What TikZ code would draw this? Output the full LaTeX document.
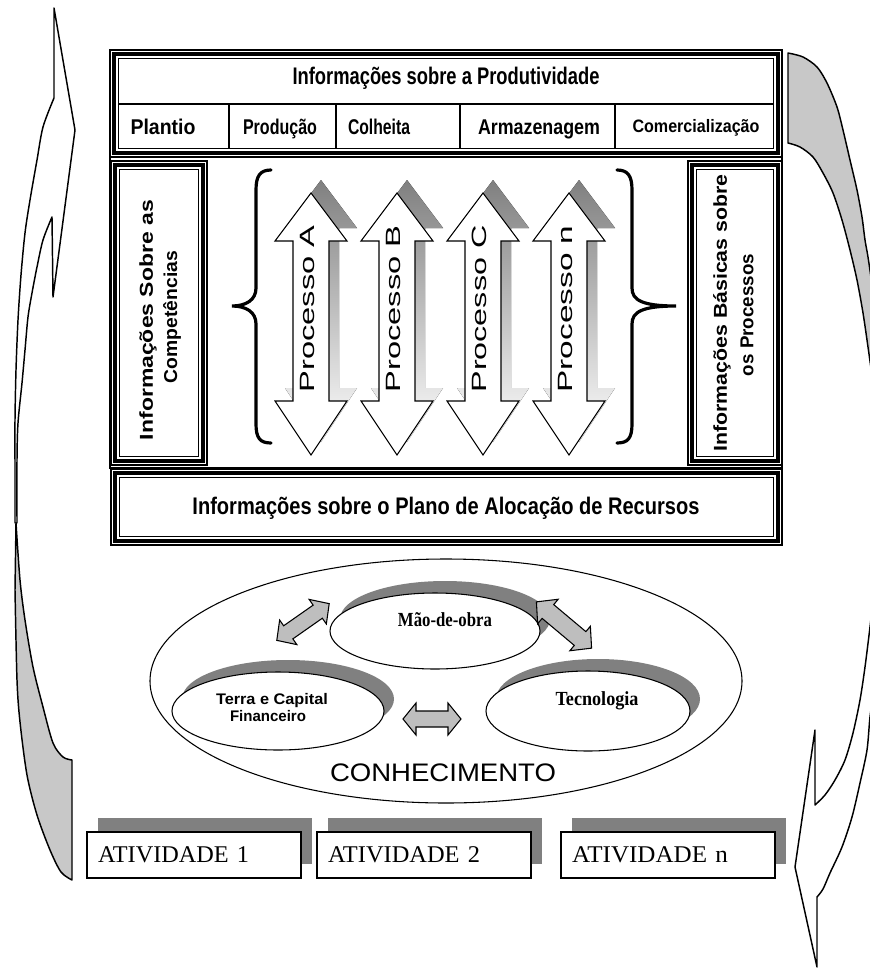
\documentclass[tikz,border=0pt]{standalone}
\usepackage{fontspec}
\usepackage{graphicx}
\setmainfont{Liberation Serif}
\newfontfamily\sansf{Liberation Sans}
\usetikzlibrary{shapes.geometric,shadows}

\newlength\pxu
\setlength\pxu{0.75pt}
% stretch or squeeze a text horizontally to a width given in pixels
\newcommand\wfit[2]{\resizebox{#1\pxu}{\height}{#2}}

\definecolor{shade}{RGB}{128,128,128}
\definecolor{swooshgray}{RGB}{200,200,200}
\definecolor{linkfill}{RGB}{190,190,190}

% thin / heavy / thin border, as in the framed panels
\newcommand\tripleframe[4]{%
  \draw[thinrule] (#1,#2) rectangle (#3,#4);
  \draw[heavyrule] (#1+4,#2+4) rectangle (#3-4,#4-4);
  \draw[thinrule] (#1+8.5,#2+8.5) rectangle (#3-8.5,#4-8.5);
}

% vertical two-headed block arrow centred on x = #1
\newcommand\procarrow[1]{%
  (#1,193) -- (#1+36,241) -- (#1+18,241) -- (#1+18,401) -- (#1+36,401)
  -- (#1,455) -- (#1-36,401) -- (#1-18,401) -- (#1-18,241) -- (#1-36,241) -- cycle}

% horizontal two-headed block arrow: half length, head length, head half width, shaft half width
\newcommand\linkarrow[4]{%
  (-#1,0) -- (-#1+#2,-#3) -- (-#1+#2,-#4) -- (#1-#2,-#4) -- (#1-#2,-#3) -- (#1,0)
  -- (#1-#2,#3) -- (#1-#2,#4) -- (-#1+#2,#4) -- (-#1+#2,#3) -- cycle}

\begin{document}
\begin{tikzpicture}[x=0.75pt,y=-0.75pt,
  thinrule/.style={line width=0.8pt},
  heavyrule/.style={line width=2.3pt},
  cellrule/.style={line width=1.1pt},
  swooshline/.style={line width=1.1pt, line join=round},
  bracestroke/.style={line width=2.4pt, line cap=round},
  headfont/.style={font=\sansf\bfseries\fontsize{18}{20}\selectfont, inner sep=0pt, anchor=base},
  cellfont/.style={font=\sansf\bfseries\fontsize{16}{18}\selectfont, inner sep=0pt, anchor=base},
  sidefont/.style={font=\sansf\bfseries\fontsize{14}{18}\selectfont, inner sep=0pt, rotate=90},
  procfont/.style={font=\sansf\fontsize{15.5}{18}\selectfont, inner sep=0pt, rotate=90},
  bubble/.style={ellipse, draw, thinrule, fill=white, inner sep=0pt},
  bubbleshadow/.style={drop shadow={shadow xshift=7.5pt, shadow yshift=9pt, fill=shade, opacity=1}},
  bubbletext/.style={font=\bfseries\fontsize{15}{17}\selectfont, inner sep=0pt, anchor=base},
  terrafont/.style={font=\sansf\bfseries\fontsize{11.5}{14}\selectfont, inner sep=0pt, anchor=base},
  actbox/.style={rectangle, draw, thinrule, fill=white, minimum width=160.5pt, minimum height=34.5pt,
    text width=144pt, inner xsep=8.25pt, align=left,
    font=\fontsize{18}{20}\selectfont,
    drop shadow={shadow xshift=8.25pt, shadow yshift=10.5pt, fill=shade, opacity=1}},
  linkarrowstyle/.style={draw, thinrule, fill=linkfill, line join=miter}
]
\useasboundingbox (0,0) rectangle (870,968);

% ---------- curved side arrows ----------
\begin{scope}
\clip (0,0) rectangle (870,968);
% left: light face rising to an upward head
\draw[swooshline, fill=white] (54,8) -- (75,130) -- (53,297) -- (52,217)
  -- plot[smooth] coordinates {(52,217) (43,240) (37,267) (32,293) (28,317) (25,350) (22,383) (18,423) (17,460) (17,523)}
  -- (15,523)
  -- plot[smooth] coordinates {(15,523) (15,470) (15,420) (16,370) (18,320) (21,275) (25,233) (30,200) (37,160) (43,127) (54,98)}
  -- cycle;
% left: shaded underside at the foot
\draw[swooshline, fill=swooshgray]
  plot[smooth] coordinates {(16,523) (20,580) (25,620) (33,667) (43,707) (53,743) (63,757) (72,760)}
  -- (72,880)
  -- plot[smooth] coordinates {(72,880) (61,872) (50,850) (37,815) (27,775) (20,722) (17,680) (15,590)}
  -- cycle;
% right: shaded band leaving the top panel
\draw[swooshline, fill=swooshgray] (788,143) -- (788,53)
  -- plot[smooth] coordinates {(788,53) (803,57) (817,67) (827,83) (837,107) (843,130) (850,160) (857,190) (862,217) (865,240) (868,257) (872,285) (876,320)}
  -- (885,330) -- (885,390) -- (874,390)
  -- plot[smooth] coordinates {(874,390) (868,347) (863,313) (857,280) (850,250) (842,220) (833,193) (823,173) (813,157) (800,147) (788,143)}
  -- cycle;
% right: light face ending in a downward head
\draw[swooshline, fill=white] (815,805) -- (815,730) -- (795,867) -- (817,967) -- (817,897)
  -- plot[smooth] coordinates {(817,897) (823,889) (830,873) (842,847) (852,817) (860,783) (867,750) (870,717) (874,690)}
  -- (885,690) -- (885,600) -- (873,600)
  -- plot[smooth] coordinates {(873,600) (870,627) (865,667) (860,700) (853,733) (845,760) (835,780) (825,795) (815,805)}
  -- cycle;
\end{scope}

% ---------- productivity panel ----------
\tripleframe{110}{50}{782}{157}
\draw[thinrule] (118.5,104) -- (773.5,104);
\foreach \xd in {229,336,460,615} \draw[cellrule] (\xd,104) -- (\xd,149);
\node[headfont] (prod) at (446,84) {\wfit{307}{Informações sobre a Produtividade}};
\node[cellfont] (plantio) at (163,134) {\wfit{65}{Plantio}};
\node[cellfont] (producao) at (280,134) {\wfit{74}{Produção}};
\node[cellfont] (colheita) at (379,134) {\wfit{62}{Colheita}};
\node[cellfont] (armaz) at (539,134) {\wfit{122}{Armazenagem}};
\node[cellfont, font=\sansf\bfseries\fontsize{13.5}{15}\selectfont] (comerc) at (696,132) {\wfit{127}{Comercialização}};

% ---------- process band ----------
\draw[thinrule] (110,157) rectangle (782,468);
\tripleframe{111}{161}{207}{465}
\tripleframe{688}{161}{782}{465}
\node[sidefont] (compet1) at (148,320) {\wfit{240}{Informações Sobre as}};
\node[sidefont] (compet2) at (172,317) {\wfit{132}{Competências}};
\node[sidefont] (basicas1) at (722,313) {\wfit{277}{Informações Básicas sobre}};
\node[sidefont] (basicas2) at (747,315) {\wfit{122}{os Processos}};

\foreach \cx/\lab/\nm in {311/A/procA, 397/B/procB, 483/C/procC, 569/n/procN} {
  \fill[shade, shift={(10,-13)}] \procarrow{\cx};
  \draw[thinrule, fill=white, line join=miter] \procarrow{\cx};
  \node[procfont] (\nm) at (\cx-4,309) {\wfit{167}{Processo \lab}};
}

% curly braces around the processes
\draw[bracestroke] (271,170) .. controls (260,170) and (256,176) .. (256,190)
  -- (256,288) .. controls (256,300) and (246,306) .. (232,306)
  .. controls (246,306) and (256,312) .. (256,324)
  -- (256,424) .. controls (256,438) and (260,443) .. (271,443);
\draw[bracestroke] (617,170) .. controls (628,170) and (632,176) .. (632,190)
  -- (632,288) .. controls (632,300) and (642,306) .. (676,306)
  .. controls (642,306) and (632,312) .. (632,324)
  -- (632,424) .. controls (632,438) and (628,443) .. (617,443);

% ---------- resource plan panel ----------
\tripleframe{111}{469}{782}{545}
\node[headfont] (plano) at (446,514) {\wfit{507}{Informações sobre o Plano de Alocação de Recursos}};

% ---------- knowledge ellipse ----------
\node[bubble, minimum width=444pt, minimum height=183pt] (conhec) at (446,681) {};
\node[bubble, bubbleshadow, minimum width=157.5pt, minimum height=57pt] (mao) at (435,631) {};
\node[bubble, bubbleshadow, minimum width=159pt, minimum height=58.5pt] (terra) at (278,711) {};
\node[bubble, bubbleshadow, minimum width=153pt, minimum height=60pt] (tecno) at (588,711) {};

\node[bubbletext] (maotxt) at (445,626) {\wfit{94}{Mão-de-obra}};
\node[bubbletext] (tecnotxt) at (597,705) {\wfit{83}{Tecnologia}};
\node[terrafont] (terratxt1) at (272,704) {\wfit{112}{Terra e Capital}};
\node[terrafont] (terratxt2) at (268,721) {\wfit{76}{Financeiro}};
\node[font=\sansf\fontsize{19}{21}\selectfont, inner sep=0pt, anchor=base] (conhtxt) at (443,781) {\wfit{226}{CONHECIMENTO}};

\draw[linkarrowstyle, shift={(303,622)}, rotate=35] \linkarrow{32}{14}{15}{8};
\draw[linkarrowstyle, shift={(564,625)}, rotate=-40] \linkarrow{36}{15}{16}{9};
\draw[linkarrowstyle, shift={(432,719)}] \linkarrow{29}{13}{16}{8};

% ---------- activities ----------
\node[actbox] (act1) at (194,855) {\wfit{151}{ATIVIDADE 1}};
\node[actbox] (act2) at (424,855) {\wfit{152}{ATIVIDADE 2}};
\node[actbox] (actn) at (668,855) {\wfit{156}{ATIVIDADE n}};
\end{tikzpicture}
\end{document}
